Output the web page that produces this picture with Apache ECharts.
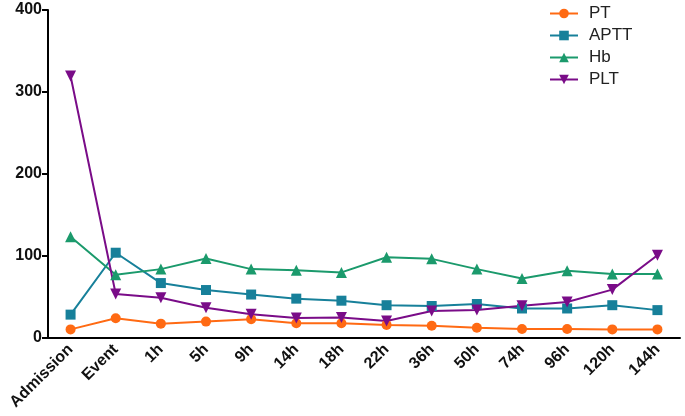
<!DOCTYPE html>
<html><head><meta charset="utf-8">
<script src="https://cdn.jsdelivr.net/npm/echarts@6/dist/echarts.min.js"></script>
<style>html,body{margin:0;padding:0;background:#fff}#c{width:685px;height:416px}</style>
</head><body><div id="c"></div>
<script>
const categories = ["Admission","Event","1h","5h","9h","14h","18h","22h","36h","50h","74h","96h","120h","144h"];
const PT   = [10.5, 24, 17.5, 20, 23, 18, 18, 16, 15, 12.5, 11, 11, 10.5, 10.5];
const APTT = [28.5, 104, 67, 58.5, 53, 48, 45.5, 40, 39, 41.5, 36, 36, 40, 34];
const Hb   = [123.5, 77, 84, 97, 84, 82.5, 80, 98.5, 96.5, 84, 72.5, 82, 78, 78];
const PLT  = [319.5, 53.7, 49, 37, 29, 24.4, 25, 20.7, 33, 34, 39.4, 44, 59, 101];
const yTicks = [0, 100, 200, 300, 400];

const chart = echarts.init(document.getElementById('c'));
const mk = (name, data, color, symbol, size, rot) => ({
  name, type: 'line', data, symbol, symbolSize: size, symbolRotate: rot || 0,
  itemStyle: {color}, lineStyle: {color, width: 2}, showSymbol: true
});
chart.setOption({
  animation: false,
  grid: {left: 48, right: 5, top: 10, bottom: 78},
  legend: {
    orient: 'vertical', left: 544, top: 0, itemGap: 5, itemWidth: 28, itemHeight: 12,
    textStyle: {fontSize: 17, color: '#222', fontFamily: 'Liberation Sans, Arial', padding: [0,0,0,6]},
    data: ['PT','APTT','Hb','PLT']
  },
  xAxis: {
    type: 'category', data: categories, boundaryGap: true,
    axisLine: {lineStyle: {color: '#000', width: 2}},
    axisTick: {alignWithLabel: true, length: 7, lineStyle: {color: '#000', width: 2}},
    axisLabel: {rotate: 45, fontSize: 16, fontWeight: 'bold', color: '#111', fontFamily: 'Liberation Sans, Arial', margin: 9, interval: 0}
  },
  yAxis: {
    type: 'value', min: 0, max: 400, interval: 100,
    splitLine: {show: false},
    axisLine: {show: true, lineStyle: {color: '#000', width: 2}},
    axisTick: {show: true, length: 6, lineStyle: {color: '#000', width: 2}},
    axisLabel: {fontSize: 16, fontWeight: 'bold', color: '#111', fontFamily: 'Liberation Sans, Arial', margin: 6,
      formatter: v => yTicks.includes(v) ? String(v) : ''}
  },
  series: [
    mk('PT', PT, '#FF6A13', 'circle', 10),
    mk('APTT', APTT, '#17809A', 'rect', 10),
    mk('Hb', Hb, '#1B9A6C', 'triangle', 11),
    mk('PLT', PLT, '#7A0C88', 'triangle', 11, 180)
  ]
});
</script></body></html>
